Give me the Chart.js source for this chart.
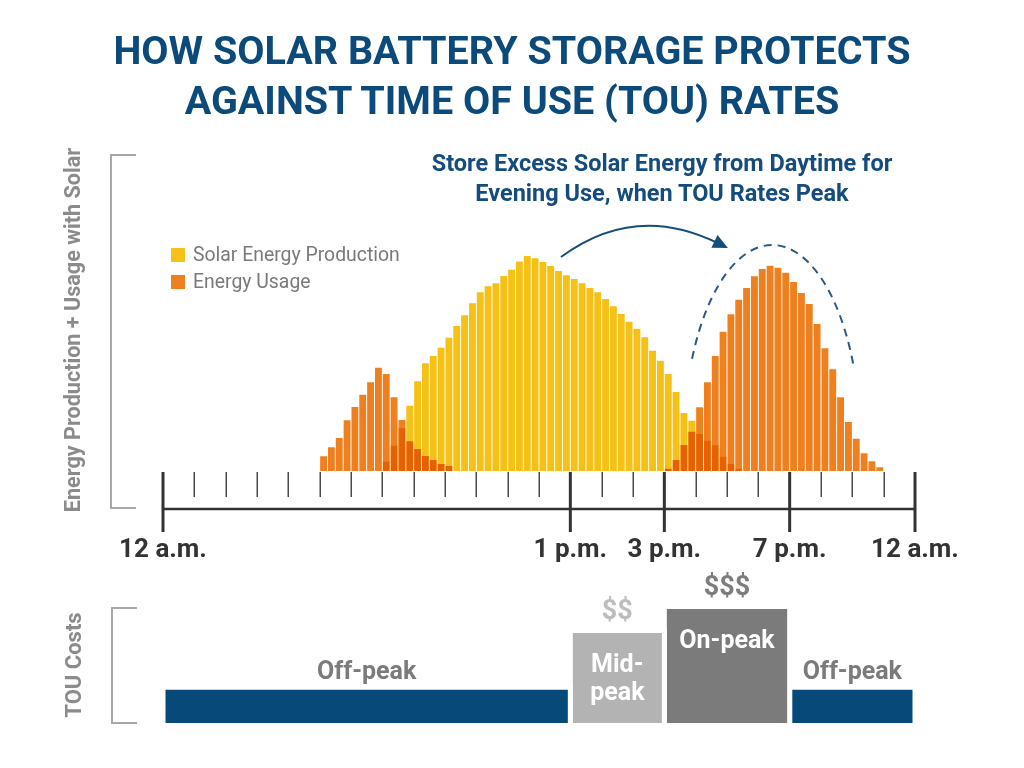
<!DOCTYPE html>
<html>
<head>
<meta charset="utf-8">
<script src="https://cdn.jsdelivr.net/npm/chart.js@4.4.1/dist/chart.umd.min.js"></script>
<style>
  html, body { margin: 0; padding: 0; background: #ffffff; }
  body { width: 1024px; height: 768px; position: relative; overflow: hidden; font-family: Roboto, "Noto Sans", sans-serif; }
  canvas { position: absolute; left: 0; }
  #energy { top: 0; }
  #tou { top: 560px; }
  .abs { position: absolute; white-space: nowrap; }
  #title { left: 0; width: 1024px; top: 26px; text-align: center; font-weight: 700; font-size: 39.5px; line-height: 50px; color: #0c4a7c; }
  #note { left: 662px; top: 148px; transform: translateX(-50%); text-align: center; font-weight: 700; font-size: 23.5px; line-height: 30px; color: #154c7d; }
  .sw { position: absolute; width: 14px; height: 14px; left: 171px; }
  .lg { left: 193px; font-size: 19.4px; line-height: 24px; color: #7a7a7a; }
  .ytitle { transform: translate(-50%, -50%) rotate(-90deg); font-weight: 700; color: #8b8b8b; }
  .bracket { position: absolute; box-sizing: border-box; border: 2px solid #a8a8a8; border-right: none; width: 26px; }
</style>
</head>
<body>
<canvas id="energy" width="1024" height="600"></canvas>
<canvas id="tou" width="1024" height="208"></canvas>

<div id="title" class="abs">HOW SOLAR BATTERY STORAGE PROTECTS<br>AGAINST TIME OF USE (TOU) RATES</div>
<div id="note" class="abs">Store Excess Solar Energy from Daytime for<br>Evening Use, when TOU Rates Peak</div>

<div class="sw" style="top:248px;background:#f5c116"></div>
<div class="abs lg" style="top:243px">Solar Energy Production</div>
<div class="sw" style="top:275px;background:#ef8020"></div>
<div class="abs lg" style="top:270px">Energy Usage</div>

<div class="bracket" style="left:110px;top:154px;height:355px"></div>
<div class="bracket" style="left:111px;top:607px;height:117px"></div>
<div class="abs ytitle" style="left:72px;top:330px;font-size:21.6px">Energy Production + Usage with Solar</div>
<div class="abs ytitle" style="left:73px;top:665px;font-size:22px">TOU Costs</div>

<script>
// ---------- DATA ----------
// 96 quarter-hour slots from 12 a.m. to 12 a.m.
const quarterLabels = Array.from({ length: 96 }, (_, i) => {
  const h = Math.floor(i / 4), m = (i % 4) * 15;
  return String(h).padStart(2, '0') + ':' + String(m).padStart(2, '0');
});

const solarProduction = [
  0, 0, 0, 0, 0, 0, 0, 0, 0, 0, 0, 0, 0, 0, 0, 0, 0, 0, 0, 0,
  0, 0, 0, 0, 0, 0, 0, 0, 3.7, 10.1, 17.1, 26.1, 35.9, 43.1, 46.0, 49.3,
  53.3, 58.0, 62.3, 67.1, 71.5, 73.9, 75.1, 78.0, 80.5, 83.8, 86.0, 85.1,
  83.6, 82.0, 80.0, 78.3, 76.8, 75.1, 73.2, 71.5, 68.8, 65.9, 62.8, 59.7,
  56.9, 53.5, 48.1, 44.1, 38.8, 31.6, 23.2, 20.1, 14.8, 12.1, 10.3, 5.7,
  2.8, 0.9, 0, 0, 0, 0, 0, 0, 0, 0, 0, 0, 0, 0, 0, 0, 0, 0, 0, 0, 0, 0
];

const energyUsage = [
  0, 0, 0, 0, 0, 0, 0, 0, 0, 0, 0, 0, 0, 0, 0, 0, 0, 0, 0, 0,
  5.9, 9.5, 13.2, 20.3, 25.6, 30.5, 35.5, 41.3, 38.8, 29.5, 20.4, 11.9,
  8.8, 6.0, 4.4, 2.8, 2.0, 0, 0, 0, 0, 0, 0, 0, 0, 0, 0, 0,
  0, 0, 0, 0, 0, 0, 0, 0, 0, 0, 0, 0, 0, 0, 0, 0,
  0.9, 4.4, 10.4, 15.7, 25.5, 35.5, 46.0, 55.7, 62.7, 68.5, 73.2, 77.9,
  80.8, 82.1, 81.3, 79.3, 75.6, 71.2, 66.8, 58.8, 49.1, 40.7, 29.5, 19.6,
  12.9, 7.1, 3.9, 1.5, 0, 0, 0, 0
];

const hourTicks = [1, 2, 3, 4, 5, 6, 7, 8, 9, 10, 11, 12, 14, 15, 17, 18, 19, 21, 22, 23];
const majorTickHours = [0, 13, 16, 20, 24];
const majorTickLabels = ['12 a.m.', '1 p.m.', '3 p.m.', '7 p.m.', '12 a.m.'];

const touPeriods = ['Off-peak', 'Mid-\npeak', 'On-peak', 'Off-peak'];
const touStart = [0, 13, 16, 20];
const touEnd = [13, 16, 20, 24];
const touLevel = [1.08, 2.80, 3.53, 1.08];
const touCost = ['', '$$', '$$$', ''];

// ---------- STYLE ----------
const SOLAR_COLOR = '#f5c116';
const USAGE_COLOR = '#ef8020';
const touColors = ['#074a7a', '#b3b3b3', '#7b7b7b', '#074a7a'];
const touLabelInside = [false, true, true, false];
const touCostColors = ['', '#bdbdbd', '#7d7d7d', ''];
// annotation geometry, in data units (hours, energy units)
const arrowGeom = { from: [12.70, 85.6], ctrl: [15.06, 107.4], to: [18.03, 89.2] };
const peakArc = { cx: 19.44, cy: 12.4, rx: 2.81, ry: 78, a0: 3.571, a1: 5.88 };

// ---------- PLUGINS ----------
const multiplyPlugin = {
  id: 'multiplyUsage',
  beforeDatasetDraw(chart, args) {
    if (args.index === 1) { chart.ctx.save(); chart.ctx.globalCompositeOperation = 'multiply'; }
  },
  afterDatasetDraw(chart, args) {
    if (args.index === 1) { chart.ctx.restore(); }
  }
};

const timeAxisPlugin = {
  id: 'timeAxis',
  afterDraw(chart) {
    const ctx = chart.ctx, xh = chart.scales.xh, ys = chart.scales.y;
    const base = chart.chartArea.bottom;
    ctx.save();
    ctx.lineCap = 'butt';
    // minor hourly ticks
    ctx.strokeStyle = '#4a4a4a';
    ctx.lineWidth = 1.5;
    hourTicks.forEach(h => {
      const x = Math.round(xh.getPixelForValue(h)) + 0.25;
      ctx.beginPath(); ctx.moveTo(x, base + 1); ctx.lineTo(x, base + 26); ctx.stroke();
    });
    // axis line
    ctx.strokeStyle = '#333333';
    ctx.lineWidth = 2.5;
    ctx.beginPath();
    ctx.moveTo(xh.getPixelForValue(0), base + 38);
    ctx.lineTo(xh.getPixelForValue(24), base + 38);
    ctx.stroke();
    // major ticks + labels
    ctx.lineWidth = 3;
    ctx.font = 'bold 26px Roboto';
    ctx.fillStyle = '#333333';
    ctx.textAlign = 'center';
    ctx.textBaseline = 'alphabetic';
    majorTickHours.forEach((h, i) => {
      const x = xh.getPixelForValue(h);
      ctx.beginPath(); ctx.moveTo(x, base + 1); ctx.lineTo(x, base + 61); ctx.stroke();
      ctx.fillText(majorTickLabels[i], x, base + 86);
    });

    // curved arrow (solar -> evening)
    const p0 = [xh.getPixelForValue(arrowGeom.from[0]), ys.getPixelForValue(arrowGeom.from[1])];
    const p1 = [xh.getPixelForValue(arrowGeom.ctrl[0]), ys.getPixelForValue(arrowGeom.ctrl[1])];
    const p2 = [xh.getPixelForValue(arrowGeom.to[0]), ys.getPixelForValue(arrowGeom.to[1])];
    const ang = Math.atan2(p2[1] - p1[1], p2[0] - p1[0]);
    const headLen = 15, headW = 7;
    const lineEnd = [p2[0] - Math.cos(ang) * headLen * 0.8, p2[1] - Math.sin(ang) * headLen * 0.8];
    ctx.strokeStyle = '#174d7d';
    ctx.fillStyle = '#174d7d';
    ctx.lineWidth = 2;
    ctx.beginPath();
    ctx.moveTo(p0[0], p0[1]);
    ctx.quadraticCurveTo(p1[0], p1[1], lineEnd[0], lineEnd[1]);
    ctx.stroke();
    ctx.beginPath();
    ctx.moveTo(p2[0], p2[1]);
    ctx.lineTo(p2[0] - Math.cos(ang) * headLen - Math.sin(ang) * headW, p2[1] - Math.sin(ang) * headLen + Math.cos(ang) * headW);
    ctx.lineTo(p2[0] - Math.cos(ang) * headLen + Math.sin(ang) * headW, p2[1] - Math.sin(ang) * headLen - Math.cos(ang) * headW);
    ctx.closePath();
    ctx.fill();

    // dashed arc over evening peak
    const cx = xh.getPixelForValue(peakArc.cx), cy = ys.getPixelForValue(peakArc.cy);
    const rx = xh.getPixelForValue(peakArc.cx + peakArc.rx) - cx;
    const ry = cy - ys.getPixelForValue(peakArc.cy + peakArc.ry);
    ctx.strokeStyle = '#2c5a83';
    ctx.lineWidth = 2;
    ctx.setLineDash([8, 6]);
    ctx.beginPath();
    ctx.ellipse(cx, cy, rx, ry, 0, peakArc.a0, peakArc.a1, false);
    ctx.stroke();
    ctx.restore();
  }
};

const touLabelPlugin = {
  id: 'touLabels',
  afterDatasetsDraw(chart) {
    const ctx = chart.ctx, xs = chart.scales.x, ys = chart.scales.y;
    ctx.save();
    ctx.textAlign = 'center';
    ctx.textBaseline = 'alphabetic';
    touPeriods.forEach((name, i) => {
      const cx = xs.getPixelForValue((touStart[i] + touEnd[i]) / 2);
      const top = ys.getPixelForValue(touLevel[i]) + 2.5;
      ctx.font = 'bold 25px Roboto';
      if (touLabelInside[i]) {
        ctx.fillStyle = '#ffffff';
        name.split('\n').forEach((line, k) => ctx.fillText(line, cx, top + 39 + k * 28));
      } else {
        ctx.fillStyle = '#7b7b7b';
        ctx.fillText(name, cx, top - 11);
      }
      if (touCost[i]) {
        ctx.font = 'bold 27px Roboto';
        ctx.fillStyle = touCostColors[i];
        ctx.fillText(touCost[i], cx, top - 14);
      }
    });
    ctx.restore();
  }
};

// ---------- CHARTS ----------
new Chart(document.getElementById('energy'), {
  type: 'bar',
  data: {
    labels: quarterLabels,
    datasets: [
      { label: 'Solar Energy Production', data: solarProduction, backgroundColor: SOLAR_COLOR,
        order: 2, grouped: false, barPercentage: 0.88, categoryPercentage: 1, borderWidth: 0 },
      { label: 'Energy Usage', data: energyUsage, backgroundColor: USAGE_COLOR,
        order: 1, grouped: false, barPercentage: 0.88, categoryPercentage: 1, borderWidth: 0 }
    ]
  },
  options: {
    responsive: false,
    animation: false,
    layout: { padding: { left: 163, right: 109, top: 221, bottom: 129 } },
    scales: {
      x: { display: false, offset: true, grid: { display: false } },
      xh: { type: 'linear', display: false, min: 0, max: 24, position: 'bottom', offset: false, grid: { offset: false } },
      y: { display: false, min: 0, max: 100 }
    },
    plugins: { legend: { display: false }, tooltip: { enabled: false } }
  },
  plugins: [multiplyPlugin, timeAxisPlugin]
});

new Chart(document.getElementById('tou'), {
  type: 'line',
  data: {
    datasets: touPeriods.map((name, i) => ({
      label: name.replace('\n', ''),
      data: [
        { x: touStart[i], y: 0 },
        { x: touStart[i], y: touLevel[i] },
        { x: touEnd[i], y: touLevel[i] },
        { x: touEnd[i], y: 0 }
      ],
      backgroundColor: touColors[i],
      borderColor: '#ffffff',
      borderWidth: 5,
      pointRadius: 0,
      fill: 'origin',
      tension: 0
    }))
  },
  options: {
    responsive: false,
    animation: false,
    layout: { padding: { left: 163, right: 109, top: 31, bottom: 45 } },
    scales: {
      x: { type: 'linear', display: false, min: 0, max: 24 },
      y: { display: false, min: 0, max: 4 }
    },
    plugins: { legend: { display: false }, tooltip: { enabled: false } }
  },
  plugins: [touLabelPlugin]
});
</script>
</body>
</html>
